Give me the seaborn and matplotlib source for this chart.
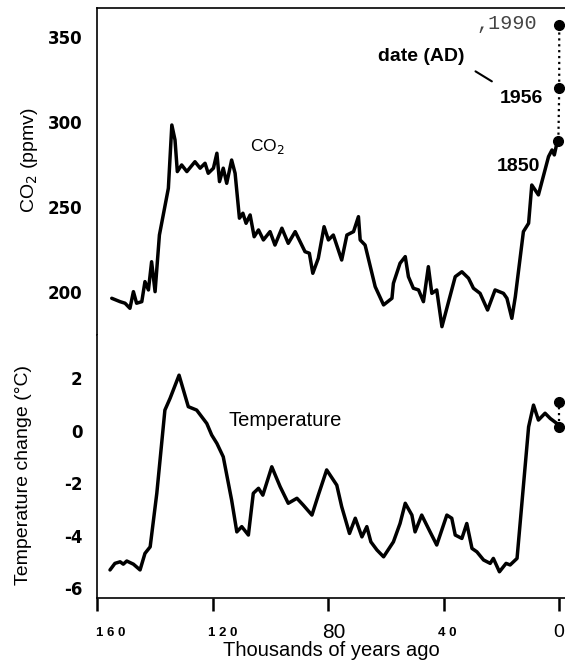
import numpy as np
import pandas as pd
import matplotlib
matplotlib.use("Agg")
import matplotlib.pyplot as plt
import matplotlib.transforms as mtransforms
import seaborn as sns

# ---- data (thousands of years ago) ----
co2_age = [154.9, 152.0, 150.3, 148.6, 147.4, 146.3, 144.5, 143.4, 142.2, 141.1, 139.9, 138.4,
           135.3, 134.1, 133.0, 132.2, 130.7, 128.9, 126.1, 124.3, 122.6, 121.5, 119.7, 118.5,
           117.6, 116.3, 115.1, 113.4, 112.2, 110.7, 109.5, 108.4, 107.0, 105.6, 104.1, 102.4,
           100.1, 98.4, 96.0, 93.8, 91.4, 88.0, 86.5, 85.3, 83.4, 81.4, 79.9, 78.2, 75.3, 73.5,
           71.2, 69.5, 68.9, 67.2, 63.7, 60.8, 57.9, 57.4, 55.1, 53.3, 52.2, 50.5, 48.7, 47.0,
           45.3, 44.1, 42.4, 40.6, 36.0, 33.7, 31.4, 29.7, 27.4, 24.8, 22.2, 19.3, 18.1, 16.4,
           15.2, 12.4, 10.6, 9.5, 7.2, 3.7, 2.5, 1.7, 0.8, 0.3]
co2_ppmv = [196.3, 194.3, 193.4, 190.4, 200.2, 193.4, 194.3, 206.1, 201.2, 217.8, 200.2, 233.5,
            261.0, 298.2, 289.4, 270.8, 274.7, 270.8, 276.6, 272.8, 275.7, 269.8, 272.8, 281.6,
            264.9, 272.8, 263.9, 277.6, 269.8, 243.4, 246.3, 240.4, 245.3, 232.5, 236.5, 230.6,
            235.5, 227.6, 237.5, 228.6, 235.5, 223.7, 222.8, 211.0, 219.8, 238.4, 230.6, 233.5,
            218.8, 233.5, 235.5, 244.3, 230.6, 227.6, 203.1, 192.4, 196.3, 205.1, 216.9, 220.8,
            209.0, 202.2, 201.2, 194.3, 214.9, 199.2, 201.2, 179.6, 209.0, 211.9, 208.1, 202.2,
            199.2, 189.4, 201.2, 199.2, 196.3, 184.5, 197.2, 235.5, 240.4, 262.9, 257.1, 279.6,
            283.5, 280.6, 287.5, 289.0]

temp_age = [155.5, 153.8, 152.0, 150.9, 149.7, 147.4, 145.1, 143.4, 141.6, 139.3, 136.5, 134.7,
            131.6, 128.4, 125.5, 122.0, 120.3, 118.5, 116.3, 113.4, 111.6, 109.9, 107.6, 105.9,
            104.1, 102.6, 99.5, 96.6, 93.8, 90.8, 88.6, 85.6, 83.4, 80.5, 77.0, 75.3, 72.6, 70.6,
            68.3, 66.6, 65.2, 63.1, 60.8, 57.4, 55.1, 53.3, 51.0, 49.9, 47.6, 44.7, 42.4, 38.9,
            37.2, 36.0, 33.7, 32.0, 30.2, 28.5, 26.2, 23.9, 22.8, 20.7, 18.4, 17.0, 14.6, 10.6,
            8.9, 7.2, 4.9, 3.1, 0.8, 0.0]
temp_change = [-5.31, -5.06, -5.00, -5.09, -4.97, -5.09, -5.31, -4.68, -4.43, -2.39, 0.78, 1.23,
               2.11, 0.91, 0.78, 0.27, -0.17, -0.49, -1.00, -2.65, -3.86, -3.66, -3.98, -2.39,
               -2.20, -2.46, -1.38, -2.14, -2.77, -2.58, -2.84, -3.22, -2.46, -1.50, -2.08, -2.90,
               -3.92, -3.34, -4.05, -3.66, -4.24, -4.55, -4.81, -4.24, -3.54, -2.77, -3.22, -3.86,
               -3.22, -3.86, -4.36, -3.22, -3.34, -3.98, -4.11, -3.54, -4.49, -4.62, -4.93, -5.06,
               -4.87, -5.38, -5.06, -5.12, -4.87, 0.14, 0.97, 0.40, 0.66, 0.46, 0.27, 0.13]

hist_age = [0.3, 0.0, 0.0]
hist_co2 = [289, 320, 357]
hist_year = ["1850", "1956", ",1990"]
temp_hist_age = [0.0, 0.0]
temp_hist = [0.13, 1.09]

xticks = [160, 120, 80, 40, 0]
xticklabels = ["1 6 0", "1 2 0", "80", "4 0", "0"]
co2_ticks = [200, 250, 300, 350]
temp_ticks = [-6, -4, -2, 0, 2]
temp_ticklabels = ["-6", "-4", "-2", "0", "2"]

# ---- plot ----
sns.set_style("white")
plt.rcParams['font.family'] = ['Liberation Sans', 'DejaVu Sans']
plt.rcParams.update({'text.color': 'black', 'axes.labelcolor': 'black',
                     'xtick.color': 'black', 'ytick.color': 'black'})

fig = plt.figure(figsize=(5.65, 6.6), dpi=100)
ax1 = fig.add_axes([0.1717, 0.4924, 0.8283, 0.4955])
ax2 = fig.add_axes([0.1717, 0.0939, 0.8283, 0.3985])

co2_df = pd.DataFrame({"age": co2_age, "co2": co2_ppmv})
t_df = pd.DataFrame({"age": temp_age, "t": temp_change})

sns.lineplot(data=co2_df, x="age", y="co2", ax=ax1, color="black", lw=2.5, sort=False)
sns.lineplot(data=t_df, x="age", y="t", ax=ax2, color="black", lw=2.5, sort=False)
ax1.plot(hist_age, hist_co2, ls=":", color="black", lw=1.6, marker="o", ms=7)
ax2.plot(temp_hist_age, temp_hist, ls=":", color="black", lw=1.6, marker="o", ms=7)

for ax in (ax1, ax2):
    ax.set_xlim(160, -2)
    ax.set_xlabel("")
    ax.spines['right'].set_visible(False)
    for s in ax.spines.values():
        s.set_color("black")
        s.set_linewidth(1.2)
    ax.tick_params(axis='y', length=0, pad=10.5, labelcolor='black')

ax1.set_ylim(174.7, 367)
ax2.set_ylim(-6.38, 3.64)
ax1.spines['bottom'].set_visible(False)
ax2.spines['top'].set_visible(False)
ax1.set_xticks([])

ytick_font = dict(fontweight='bold', fontsize=12, family=['DejaVu Sans'])
ax1.set_yticks(co2_ticks)
ax1.set_yticklabels([str(v) for v in co2_ticks], **ytick_font)
ax2.set_yticks(temp_ticks)
ax2.set_yticklabels(temp_ticklabels, **ytick_font)

ax2.set_xticks(xticks)
ax2.set_xticklabels(xticklabels)
ax2.tick_params(axis='x', bottom=True, direction='out', length=9, width=1.8,
                color='black', labelcolor='black', pad=16)
styles = [dict(w='bold', s=9.5, dx=14), dict(w='bold', s=9.5, dx=10),
          dict(w='normal', s=15, dx=6), dict(w='bold', s=9.5, dx=4),
          dict(w='normal', s=14, dx=-1)]
for lab, st in zip(ax2.get_xticklabels(), styles):
    lab.set_fontweight(st['w'])
    lab.set_fontsize(st['s'])
    lab.set_verticalalignment('center')
    lab.set_transform(lab.get_transform() +
                      mtransforms.ScaledTranslation(st['dx'] / 100, 0, fig.dpi_scale_trans))

ax1.set_ylabel("CO$_2$ (ppmv)", fontsize=14, va='center', color='black')
ax1.yaxis.set_label_coords(-0.145, 0.535)
ax2.set_ylabel("Temperature change (°C)", fontsize=14, va='center', color='black')
ax2.yaxis.set_label_coords(-0.158, 0.468)
ax2.set_xlabel("Thousands of years ago", fontsize=14.5, va='center', color='black')
ax2.xaxis.set_label_coords(0.5, -0.2)

# annotations
ax1.text(107, 285.3, "CO$_2$", fontsize=12.5, ha='left', va='center', color='black')
ax2.text(114.6, 0.4, "Temperature", fontsize=14.5, ha='left', va='center', color='black')
ax1.text(62.7, 338.2, "date (AD)", fontsize=14, fontweight='bold', ha='left', va='center',
         color='black')
ax1.annotate("", xy=(22.5, 323), xytext=(29.8, 330.6),
             arrowprops=dict(arrowstyle='-', color='black', lw=1.5))
ax1.text(5.5, 313.5, hist_year[1], fontsize=14, fontweight='bold', ha='right', va='center',
         color='black')
ax1.text(6.6, 273.5, hist_year[0], fontsize=14, fontweight='bold', ha='right', va='center',
         color='black')
ax1.text(7.6, 357.6, hist_year[2], fontsize=14.5, family=['Liberation Mono', 'DejaVu Sans Mono'],
         color='#444444', ha='right', va='center')

fig.savefig("out.png", dpi=100)
